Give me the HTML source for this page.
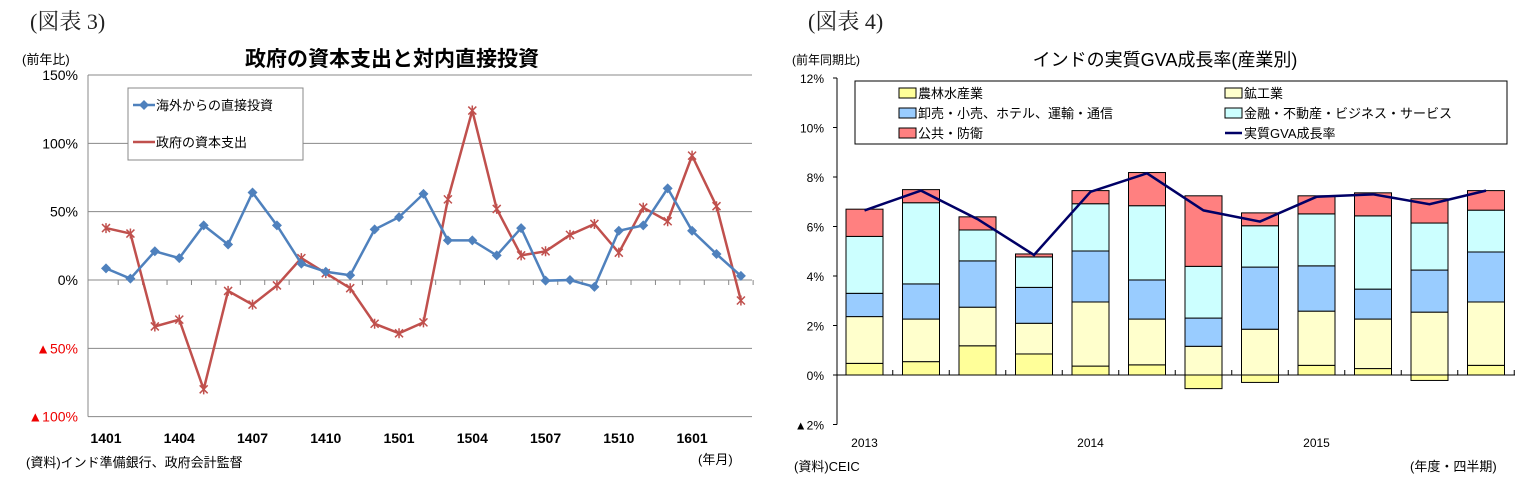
<!DOCTYPE html>
<html><head><meta charset="utf-8">
<style>
html,body{margin:0;padding:0;background:#fff;}
svg{display:block;font-family:"Liberation Sans","Noto Sans CJK JP",sans-serif;}
.ser{font-family:"Liberation Serif","Noto Serif CJK SC",serif;}
</style></head>
<body>
<svg id="c" width="1534" height="488" viewBox="0 0 1534 488" xmlns="http://www.w3.org/2000/svg">
<text class="ser" x="30" y="29" font-size="22" fill="#222">(図表 3)</text>
<text class="ser" x="808" y="29" font-size="22" fill="#222">(図表 4)</text>
<text x="392" y="66" font-size="21" font-weight="bold" text-anchor="middle" fill="#000">政府の資本支出と対内直接投資</text>
<text x="1165" y="66" font-size="18" text-anchor="middle" fill="#000">インドの実質GVA成長率(産業別)</text>
<text x="22" y="64" font-size="13" fill="#000">(前年比)</text>
<text x="792" y="64" font-size="12" fill="#000">(前年同期比)</text>
<text x="26" y="467" font-size="13" fill="#000">(資料)インド準備銀行、政府会計監督</text>
<text x="698" y="464" font-size="13" fill="#000">(年月)</text>
<text x="794" y="471" font-size="13" fill="#000">(資料)CEIC</text>
<text x="1410" y="471" font-size="13" fill="#000">(年度・四半期)</text>
<g id="L"></g><g id="R"></g>
</svg>
<script>
// ---- Left chart data ----
const months = ["1401","1402","1403","1404","1405","1406","1407","1408","1409","1410","1411","1412","1501","1502","1503","1504","1505","1506","1507","1508","1509","1510","1511","1512","1601","1602","1603"];
const fdi = [8.5,1,21,16,40,26,64,40,12,6,3.5,37,46,63,29,29,18,38,-0.5,0,-5,36,40,67,36,19,3];
const govCapex = [38,34,-34,-29,-80,-8,-18,-4,16,5,-6,-32,-39,-31,59,124,52,18,21,33,41,20,53,43,91,54,-15];
const leftTicks = [150,100,50,0,-50,-100];
const leftTickLabels = ["150%","100%","50%","0%","▲50%","▲100%"];
const leftXLabels = ["1401","1404","1407","1410","1501","1504","1507","1510","1601"];

// ---- Right chart data ----
const quarters = ["2013Q1","2013Q2","2013Q3","2013Q4","2014Q1","2014Q2","2014Q3","2014Q4","2015Q1","2015Q2","2015Q3","2015Q4"];
const agri = [0.47,0.54,1.18,0.85,0.36,0.41,-0.55,-0.3,0.39,0.26,-0.22,0.39];
const industry = [1.89,1.72,1.56,1.24,2.59,1.85,1.16,1.85,2.19,2.0,2.54,2.56];
const trade = [0.94,1.42,1.87,1.45,2.06,1.58,1.14,2.51,1.83,1.21,1.7,2.02];
const finance = [2.3,3.28,1.25,1.23,1.91,3.0,2.09,1.67,2.1,2.96,1.9,1.69];
const publicSvc = [1.1,0.53,0.53,0.12,0.53,1.34,2.85,0.52,0.73,0.93,0.98,0.79];
const gva = [6.65,7.45,6.3,4.85,7.4,8.15,6.65,6.2,7.2,7.3,6.9,7.45];
const rightTicks = [12,10,8,6,4,2,0,-2];
const rightTickLabels = ["12%","10%","8%","6%","4%","2%","0%","▲2%"];
const yearLabels = ["2013","2014","2015"];
const yearIdx = [0,4,8];

const NS="http://www.w3.org/2000/svg";
function mk(parent,tag,attrs,text){const e=document.createElementNS(NS,tag);for(const k in attrs)e.setAttribute(k,attrs[k]);if(text!==undefined)e.textContent=text;parent.appendChild(e);return e;}

// Left chart
const L=document.getElementById('L');
const lx0=88,lx1=752,ly=v=>280-v*205/150;
const lxi=i=>106+i*24.42;
leftTicks.forEach((t,k)=>{
  const g=mk(L,'line',{x1:lx0,x2:lx1,y1:ly(t),y2:ly(t),stroke:'#888','stroke-width':1});
  
  
  const tx=mk(L,'text',{x:78,y:ly(t)+5,'font-size':14,'text-anchor':'end',fill:t<0?'#e00':'#000'},leftTickLabels[k]);
  
  
});
const lax=mk(L,'line',{x1:lx0,x2:lx0,y1:ly(150),y2:ly(-100),stroke:'#888'});


months.forEach((m,i)=>{
  const tk=mk(L,'line',{x1:lxi(i)+12.2,x2:lxi(i)+12.2,y1:280,y2:285,stroke:'#888'});
  
  
});
leftXLabels.forEach(lb=>{
  const i=months.indexOf(lb);
  const t=mk(L,'text',{x:lxi(i),y:443,'font-size':14,'font-weight':'bold','text-anchor':'middle',fill:'#000'},lb);
  
  
});
function series(vals,color,name,marker){
  const p=mk(L,'polyline',{points:vals.map((v,i)=>lxi(i)+','+ly(v)).join(' '),fill:'none',stroke:color,'stroke-width':2.5});
  
  
  vals.forEach((v,i)=>{
    const x=lxi(i),y=ly(v);let m;
    if(marker==='d') m=mk(L,'polygon',{points:`${x},${y-5} ${x+5},${y} ${x},${y+5} ${x-5},${y}`,fill:color});
    else m=mk(L,'path',{d:`M${x-4},${y-4}L${x+4},${y+4}M${x-4},${y+4}L${x+4},${y-4}M${x},${y-5}L${x},${y+5}`,stroke:color,'stroke-width':1.5});
    
    
  });
}
series(govCapex,'#c0504d','gov-capex','x');
series(fdi,'#4f81bd','fdi','d');
// left legend
const lg=mk(L,'rect',{x:128,y:88,width:175,height:72,fill:'#fff',stroke:'#888'});


const le1=mk(L,'line',{x1:133,x2:155,y1:105,y2:105,stroke:'#4f81bd','stroke-width':2.5});


const lm1=mk(L,'polygon',{points:'144,100 149,105 144,110 139,105',fill:'#4f81bd'});


const lt1=mk(L,'text',{x:156,y:110,'font-size':13,fill:'#000'},'海外からの直接投資');


const le2=mk(L,'line',{x1:133,x2:155,y1:142,y2:142,stroke:'#c0504d','stroke-width':2.5});


const lt2=mk(L,'text',{x:156,y:147,'font-size':13,fill:'#000'},'政府の資本支出');



// Right chart
const R=document.getElementById('R');
const rx0=837,rx1=1515,ry=v=>375-v*148.5/6;
const rxi=i=>846+i*56.5, bw=37;
rightTicks.forEach((t,k)=>{
  const tx=mk(R,'text',{x:824,y:ry(t)+5,'font-size':12,'text-anchor':'end',fill:'#000'},rightTickLabels[k]);
  
  
  const tk=mk(R,'line',{x1:rx0-4,x2:rx0,y1:ry(t),y2:ry(t),stroke:'#000'});
  
  
});
const ryax=mk(R,'line',{x1:rx0,x2:rx0,y1:ry(12),y2:ry(-2),stroke:'#000'});


const stackSeries=[[agri,'#ffff99','agri'],[industry,'#ffffcc','industry'],[trade,'#99ccff','trade'],[finance,'#ccffff','finance'],[publicSvc,'#ff8080','public']];
quarters.forEach((q,i)=>{
  let pos=0;
  stackSeries.forEach(([arr,col,nm])=>{
    const v=arr[i];let y0,y1;
    if(v<0){y0=ry(0);y1=ry(v);}else{y0=ry(pos+v);y1=ry(pos);pos+=v;}
    const r=mk(R,'rect',{x:rxi(i),y:y0,width:bw,height:Math.max(0,y1-y0),fill:col,stroke:'#000','stroke-width':1});
    
    
  });
});
const rxax=mk(R,'line',{x1:rx0,x2:rx1,y1:ry(0),y2:ry(0),stroke:'#000'});


quarters.forEach((q,i)=>{
  const tk=mk(R,'line',{x1:rxi(i)+bw+9.75,x2:rxi(i)+bw+9.75,y1:ry(0),y2:ry(0)-5,stroke:'#000'});
  
  
});
const gl=mk(R,'polyline',{points:gva.map((v,i)=>(rxi(i)+bw/2)+','+ry(v)).join(' '),fill:'none',stroke:'#000066','stroke-width':2.5});


yearLabels.forEach((y,k)=>{
  const t=mk(R,'text',{x:rxi(yearIdx[k])+bw/2,y:447,'font-size':12,'text-anchor':'middle',fill:'#000'},y);
  
  
});
// right legend
const rl=mk(R,'rect',{x:855,y:81,width:652,height:63,fill:'#fff',stroke:'#000'});


const legItems=[['農林水産業','#ffff99',899,93],['鉱工業','#ffffcc',1225,93],['卸売・小売、ホテル、運輸・通信','#99ccff',899,113],['金融・不動産・ビジネス・サービス','#ccffff',1225,113],['公共・防衛','#ff8080',899,133]];
legItems.forEach(([lab,col,x,y])=>{
  const s=mk(R,'rect',{x:x,y:y-5,width:17,height:10,fill:col,stroke:'#000'});
  
  
  const t=mk(R,'text',{x:x+19,y:y+5,'font-size':13,fill:'#000'},lab);
  
  
});
const gs=mk(R,'line',{x1:1225,x2:1242,y1:133,y2:133,stroke:'#000066','stroke-width':2.5});


const gt=mk(R,'text',{x:1244,y:138,'font-size':13,fill:'#000'},'実質GVA成長率');


</script>
</body></html>
